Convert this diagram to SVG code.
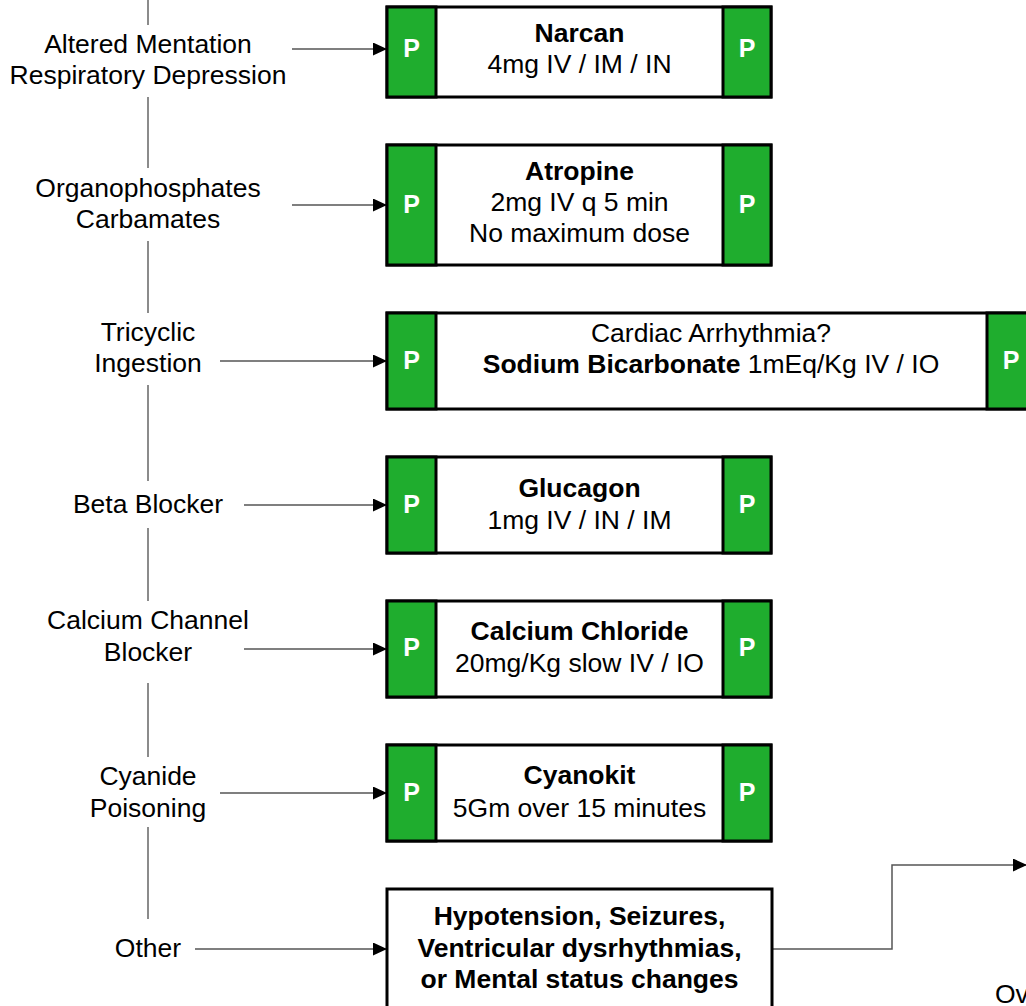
<svg xmlns="http://www.w3.org/2000/svg" width="1026" height="1006" viewBox="0 0 1026 1006">
  <style>
    text { font-family: "Liberation Sans", Arial, sans-serif; font-size: 26.5px; fill: #000; text-anchor: middle; }
    .b { font-weight: bold; }
    .p { font-weight: bold; font-size: 25px; fill: #fff; }
    .frame { fill: #fff; stroke: #000; stroke-width: 3; }
    .green { fill: #1FAD2E; stroke: #000; stroke-width: 3; }
    .conn { fill: none; stroke: #555; stroke-width: 1.5; }
    .spine { fill: none; stroke: #666; stroke-width: 1.5; }
  </style>
  <defs>
    <marker id="arrow" viewBox="0 0 14 13" refX="14" refY="6.5" markerWidth="14" markerHeight="13" markerUnits="userSpaceOnUse" orient="auto">
      <path d="M0,0 L14,6.5 L0,13 Z" fill="#000"/>
    </marker>
  </defs>

  <!-- vertical spine joining the condition labels -->
  <g id="spine">
    <path class="spine" d="M148,0 V25 M148,97 V168 M148,241 V313 M148,385 V481 M148,528 V601 M148,683 V757 M148,827 V919"/>
  </g>

  <!-- condition labels -->
  <g id="label-altered">
    <text x="148" y="53">Altered Mentation</text>
    <text x="148" y="84">Respiratory Depression</text>
  </g>
  <g id="label-organo">
    <text x="148" y="197">Organophosphates</text>
    <text x="148" y="228">Carbamates</text>
  </g>
  <g id="label-tricyclic">
    <text x="148" y="341">Tricyclic</text>
    <text x="148" y="372">Ingestion</text>
  </g>
  <g id="label-beta">
    <text x="148" y="513">Beta Blocker</text>
  </g>
  <g id="label-calcium">
    <text x="148" y="629">Calcium Channel</text>
    <text x="148" y="661">Blocker</text>
  </g>
  <g id="label-cyanide">
    <text x="148" y="785">Cyanide</text>
    <text x="148" y="817">Poisoning</text>
  </g>
  <g id="label-other">
    <text x="148" y="957">Other</text>
  </g>

  <!-- connectors -->
  <g id="connectors">
    <path class="conn" d="M292,49 H387" marker-end="url(#arrow)"/>
    <path class="conn" d="M292,205 H387" marker-end="url(#arrow)"/>
    <path class="conn" d="M220,361 H387" marker-end="url(#arrow)"/>
    <path class="conn" d="M244,505 H387" marker-end="url(#arrow)"/>
    <path class="conn" d="M244,649 H387" marker-end="url(#arrow)"/>
    <path class="conn" d="M220,793 H387" marker-end="url(#arrow)"/>
    <path class="conn" d="M195,949 H387" marker-end="url(#arrow)"/>
    <path class="conn" d="M772,949 H892 V865 H1027" marker-end="url(#arrow)"/>
  </g>

  <!-- Narcan -->
  <g id="narcan">
    <rect class="frame" x="387" y="7" width="384" height="90"/>
    <rect class="green" x="387" y="7" width="49" height="90"/>
    <rect class="green" x="723" y="7" width="48" height="90"/>
    <text class="p" x="411.5" y="57">P</text>
    <text class="p" x="747" y="57">P</text>
    <text class="b" x="579.5" y="42">Narcan</text>
    <text x="579.5" y="73">4mg IV / IM / IN</text>
  </g>

  <!-- Atropine -->
  <g id="atropine">
    <rect class="frame" x="387" y="145" width="384" height="120"/>
    <rect class="green" x="387" y="145" width="49" height="120"/>
    <rect class="green" x="723" y="145" width="48" height="120"/>
    <text class="p" x="411.5" y="213">P</text>
    <text class="p" x="747" y="213">P</text>
    <text class="b" x="579.5" y="180">Atropine</text>
    <text x="579.5" y="211">2mg IV q 5 min</text>
    <text x="579.5" y="242">No maximum dose</text>
  </g>

  <!-- Sodium Bicarbonate -->
  <g id="sodium-bicarbonate">
    <rect class="frame" x="387" y="313" width="660" height="96"/>
    <rect class="green" x="387" y="313" width="49" height="96"/>
    <rect class="green" x="987" y="313" width="60" height="96"/>
    <text class="p" x="411.5" y="369">P</text>
    <text class="p" x="1011" y="369">P</text>
    <text x="711" y="342">Cardiac Arrhythmia?</text>
    <text x="711" y="373"><tspan class="b">Sodium Bicarbonate</tspan> 1mEq/Kg IV / IO</text>
  </g>

  <!-- Glucagon -->
  <g id="glucagon">
    <rect class="frame" x="387" y="457" width="384" height="96"/>
    <rect class="green" x="387" y="457" width="49" height="96"/>
    <rect class="green" x="723" y="457" width="48" height="96"/>
    <text class="p" x="411.5" y="513">P</text>
    <text class="p" x="747" y="513">P</text>
    <text class="b" x="579.5" y="497">Glucagon</text>
    <text x="579.5" y="529">1mg IV / IN / IM</text>
  </g>

  <!-- Calcium Chloride -->
  <g id="calcium-chloride">
    <rect class="frame" x="387" y="601" width="384" height="96"/>
    <rect class="green" x="387" y="601" width="49" height="96"/>
    <rect class="green" x="723" y="601" width="48" height="96"/>
    <text class="p" x="411.5" y="656">P</text>
    <text class="p" x="747" y="656">P</text>
    <text class="b" x="579.5" y="640">Calcium Chloride</text>
    <text x="579.5" y="672">20mg/Kg slow IV / IO</text>
  </g>

  <!-- Cyanokit -->
  <g id="cyanokit">
    <rect class="frame" x="387" y="745" width="384" height="96"/>
    <rect class="green" x="387" y="745" width="49" height="96"/>
    <rect class="green" x="723" y="745" width="48" height="96"/>
    <text class="p" x="411.5" y="801">P</text>
    <text class="p" x="747" y="801">P</text>
    <text class="b" x="579.5" y="784">Cyanokit</text>
    <text x="579.5" y="817">5Gm over 15 minutes</text>
  </g>

  <!-- Other: warning signs -->
  <g id="other-signs">
    <rect class="frame" x="387" y="889" width="385" height="150"/>
    <text class="b" x="579.5" y="925">Hypotension, Seizures,</text>
    <text class="b" x="579.5" y="957">Ventricular dysrhythmias,</text>
    <text class="b" x="579.5" y="988">or Mental status changes</text>
  </g>

  <g id="overdose-label">
    <text x="995" y="1003" style="text-anchor:start">Ov</text>
  </g>
</svg>
